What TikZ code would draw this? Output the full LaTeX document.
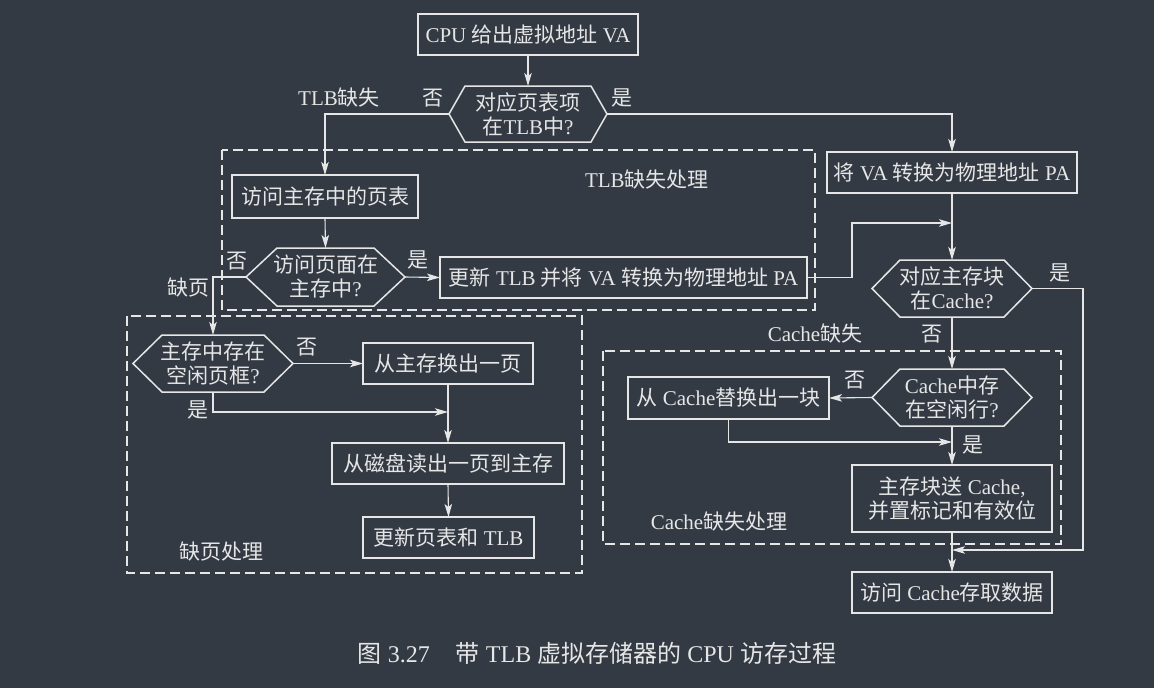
\documentclass[tikz,border=0pt]{standalone}
\usepackage{fontspec}
\setmainfont{Liberation Serif}
\newfontfamily\cjk{Noto Sans CJK SC}
\newcommand\zh[1]{{\cjk #1}}
\usetikzlibrary{arrows.meta,calc}
\definecolor{bgc}{HTML}{333A44}
\definecolor{fgc}{HTML}{E6E6E6}
\tikzset{
  base/.style={text=fgc,font=\fontsize{21}{24}\selectfont,inner sep=0pt,outer sep=0pt},
  box/.style={base,draw=fgc,line width=1.5pt,minimum width=#1,minimum height=41pt,align=center},
  hexnode/.style={base,minimum width=#1,align=center},
  lab/.style={base},
  line/.style={draw=fgc,line width=1.1pt},
  arr/.style={line,-{Stealth[length=13pt,width=7.5pt,inset=3pt]}},
  grp/.style={draw=fgc,line width=1.1pt,dash pattern=on 10pt off 5pt},
}
\newcommand\hexpath[2]{\draw[fgc,line width=1.5pt] (#1.west) -- ([xshift=#2pt]#1.north west) -- ([xshift=-#2pt]#1.north east) -- (#1.east) -- ([xshift=-#2pt]#1.south east) -- ([xshift=#2pt]#1.south west) -- cycle;}
\begin{document}
\begin{tikzpicture}[x=1pt,y=-1pt]
\fill[bgc] (0,0) rectangle (1154,688);
\useasboundingbox (0,0) rectangle (1154,688);

% dashed groups
\draw[grp] (222,150) rectangle (815,310);
\draw[grp] (127,316) rectangle (582,573);
\draw[grp] (603,351) rectangle (1061,544);

% boxes
\node[box=220pt] (b1) at (528,34.5) {CPU \zh{给出虚拟地址} VA};
\node[box=250pt] (b2) at (952,172.5) {\zh{将} VA \zh{转换为物理地址} PA};
\node[box=186pt,minimum height=43pt] (b3) at (325,196.5) {\zh{访问主存中的页表}};
\node[box=367pt] (b4) at (623.5,277.5) {\zh{更新} TLB \zh{并将} VA \zh{转换为物理地址} PA};
\node[box=170pt] (b5) at (448,363.5) {\zh{从主存换出一页}};
\node[box=232pt] (b6) at (448,463.5) {\zh{从磁盘读出一页到主存}};
\node[box=171pt] (b7) at (448.5,537.5) {\zh{更新页表和} TLB};
\node[box=201pt,minimum height=42pt] (b8) at (728.5,398) {\zh{从} Cache\zh{替换出一块}};
\node[box=200pt,minimum height=67pt] (b9) at (952,498.5) {\zh{主存块送} Cache,\\\zh{并置标记和有效位}};
\node[box=200pt] (b10) at (952,592.5) {\zh{访问} Cache\zh{存取数据}};

% decisions
\node[hexnode=158pt,minimum height=56pt] (d1) at (528,114) {\zh{对应页表项}\\\zh{在}TLB\zh{中}?};
\hexpath{d1}{16}
\node[hexnode=160pt,minimum height=57pt] (d2) at (952,288.5) {\zh{对应主存块}\\\zh{在}Cache?};
\hexpath{d2}{28}
\node[hexnode=159pt,minimum height=58pt] (d3) at (325.5,277) {\zh{访问页面在}\\\zh{主存中}?};
\hexpath{d3}{31}
\node[hexnode=160pt,minimum height=57pt] (d4) at (213,363.5) {\zh{主存中存在}\\\zh{空闲页框}?};
\hexpath{d4}{29}
\node[hexnode=160pt,minimum height=57pt] (d5) at (952,397.5) {Cache\zh{中存}\\\zh{在空闲行}?};
\hexpath{d5}{28}

% merge points
\coordinate (m1) at (952,223);
\coordinate (m2) at (952,550);
\coordinate (m3) at (952,442);
\coordinate (m4) at (448,412);

% connectors
\draw[arr] (b1.south) -- (d1.north);
\draw[arr] (d1.west) -| (b3.north);
\draw[arr] (d1.east) -| (b2.north);
\draw[arr] (b3.south) -- (d3.north);
\draw[arr] (d3.east) -- (b4.west);
\draw[arr] (d3.west) -| (d4.north);
\draw[arr] (b4.east) -- ++(45,0) |- (m1);
\draw[arr] (b2.south) -- (d2.north);
\draw[arr] (d2.south) -- (d5.north);
\draw[arr] (d2.east) -- ++(51,0) |- (m2);
\draw[arr] (d5.west) -- (b8.east);
\draw[arr] (b8.south) |- (m3);
\draw[arr] (d5.south) -- (b9.north);
\draw[arr] (b9.south) -- (b10.north);
\draw[arr] (d4.east) -- (b5.west);
\draw[arr] (d4.south) |- (m4);
\draw[arr] (b5.south) -- (b6.north);
\draw[arr] (b6.south) -- (b7.north);

% labels
\node[lab] (l1) at (339,98) {TLB\zh{缺失}};
\node[lab] (l2) at (433,98) {\zh{否}};
\node[lab] (l3) at (622,98) {\zh{是}};
\node[lab,anchor=west] (l4) at (585,180) {TLB\zh{缺失处理}};
\node[lab] (l5) at (237,261) {\zh{否}};
\node[lab] (l6) at (418,260) {\zh{是}};
\node[lab] (l7) at (188,288) {\zh{缺页}};
\node[lab] (l8) at (307,347) {\zh{否}};
\node[lab] (l9) at (198,410) {\zh{是}};
\node[lab] (l10) at (221,552) {\zh{缺页处理}};
\node[lab] (l11) at (1060,273) {\zh{是}};
\node[lab] (l12) at (815,334) {Cache\zh{缺失}};
\node[lab] (l13) at (932,334) {\zh{否}};
\node[lab] (l14) at (855,380) {\zh{否}};
\node[lab] (l15) at (973,445) {\zh{是}};
\node[lab] (l16) at (719,522) {Cache\zh{缺失处理}};
\node[lab,font=\fontsize{24}{28}\selectfont] (cap) at (597,653) {\zh{图} 3.27\hspace{26pt}\zh{带} TLB \zh{虚拟存储器的} CPU \zh{访存过程}};
\end{tikzpicture}
\end{document}
